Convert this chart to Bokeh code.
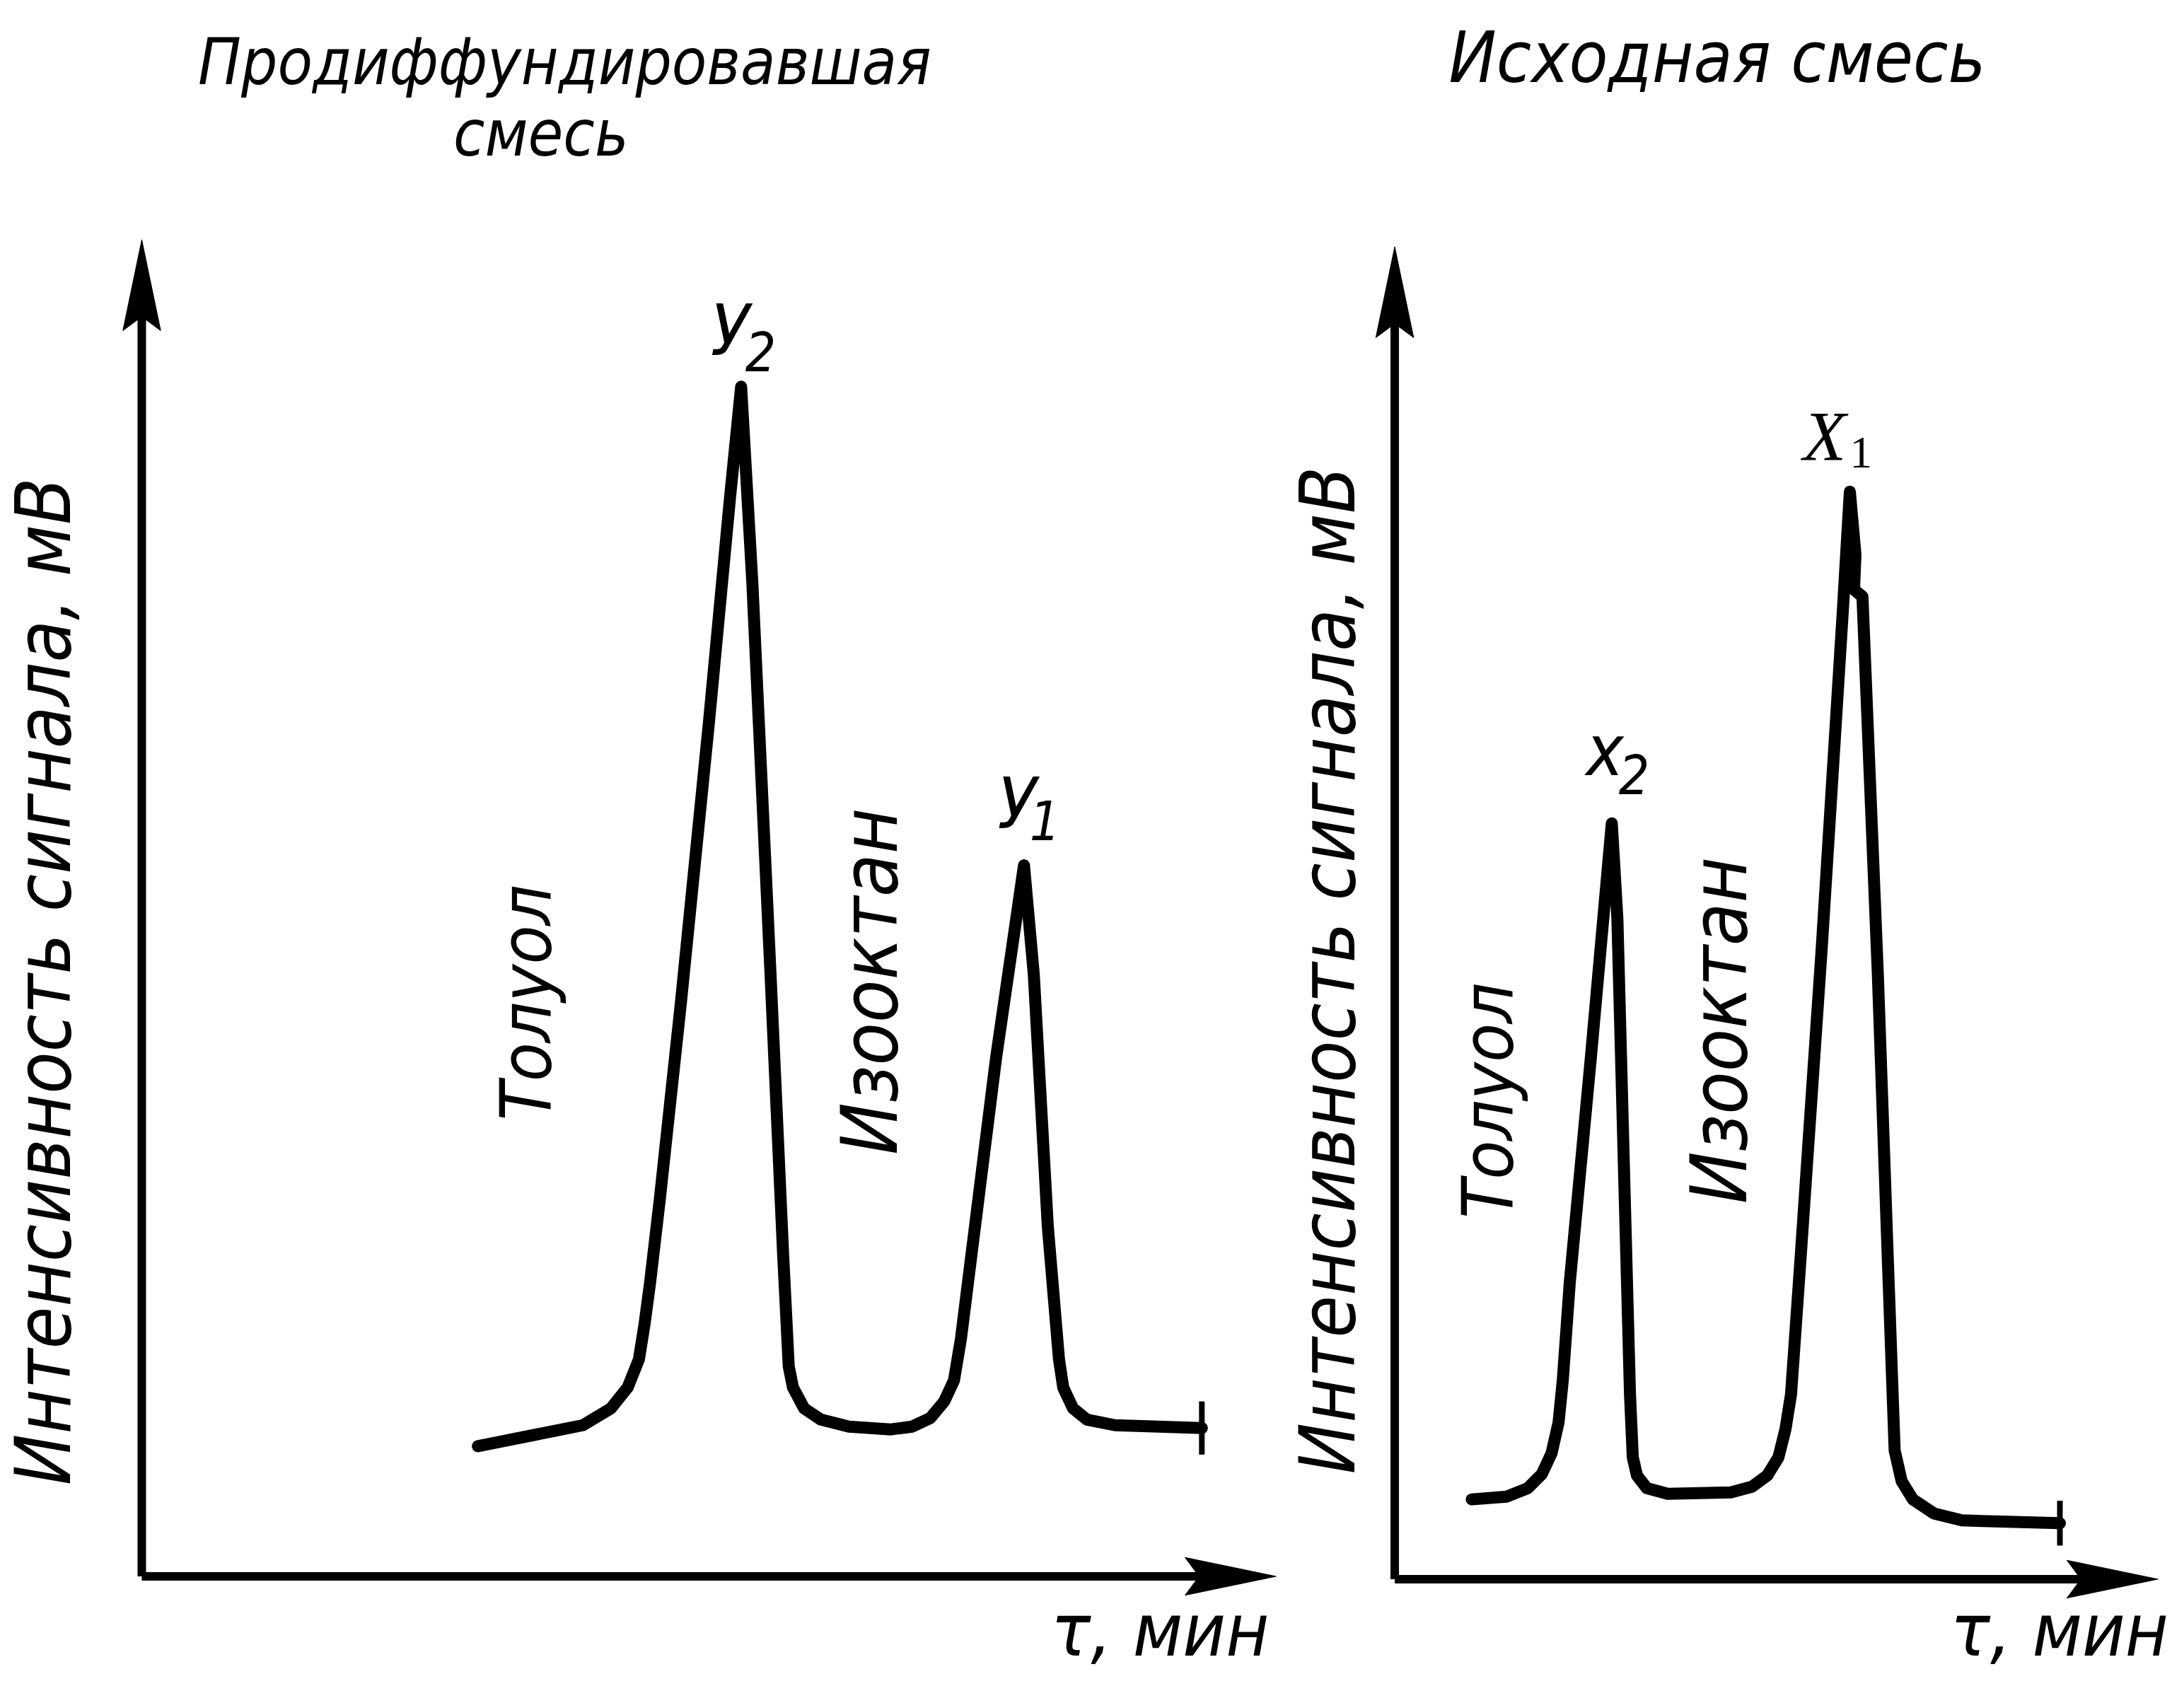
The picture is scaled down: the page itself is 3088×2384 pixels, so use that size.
from math import pi
from bokeh.plotting import figure
from bokeh.layouts import row
from bokeh.models import Range1d
from bokeh.core.properties import value
from bokeh.embed import file_html
from bokeh.resources import INLINE

# ---------------- data (arbitrary units: time, signal) ----------------
# Left panel: diffused mixture
left_t = [4.80, 6.30, 6.70, 6.94, 7.10, 7.18, 7.26, 7.40, 7.70, 8.10, 8.40, 8.56,
          8.72, 8.98, 9.16, 9.24, 9.30, 9.46, 9.70, 10.10, 10.70, 11.00, 11.26,
          11.46, 11.60, 11.70, 11.90, 12.20, 12.60, 12.74, 12.94, 13.10, 13.16,
          13.30, 13.50, 13.90, 15.14]
left_s = [1.86, 2.16, 2.40, 2.70, 3.10, 3.60, 4.20, 5.40, 8.20, 12.20, 15.40, 17.00,
          14.20, 8.60, 4.60, 3.00, 2.70, 2.40, 2.24, 2.14, 2.10, 2.14, 2.26,
          2.50, 2.80, 3.40, 5.00, 7.40, 10.16, 8.60, 5.00, 3.10, 2.70,
          2.40, 2.24, 2.16, 2.12]
left_end_tick = [1.74, 2.50]
left_axis_len = [16.2, 19.1]      # x tip, y tip

# Right panel: initial mixture
right_t = [1.10, 1.60, 1.90, 2.10, 2.24, 2.34, 2.40, 2.50, 2.80, 3.10, 3.18, 3.28,
           3.36, 3.40, 3.46, 3.60, 3.90, 4.80, 5.10, 5.32, 5.48, 5.58, 5.66, 5.80,
           6.10, 6.40, 6.50, 6.58, 6.56, 6.68, 6.90, 7.04, 7.14, 7.24, 7.40, 7.70,
           8.10, 9.50]
right_s = [1.14, 1.18, 1.30, 1.50, 1.80, 2.24, 2.84, 4.24, 7.44, 10.80, 9.44, 5.64,
           2.64, 1.74, 1.48, 1.30, 1.22, 1.24, 1.32, 1.48, 1.74, 2.14, 2.64, 4.64,
           9.04, 13.84, 15.54, 14.64, 14.14, 14.04, 8.64, 4.64, 1.84, 1.40, 1.14, 0.94,
           0.84, 0.80]
right_end_tick = [0.48, 1.12]
right_axis_len = [10.9, 19.04]

panel_titles = [["Продиффундировавшая", "смесь"], ["Исходная  смесь"]]
y_label = "Интенсивность сигнала, мВ"
x_label = "τ, мин"
component_labels = ["Толуол", "Изооктан"]
left_peaks = [("У", "2"), ("У", "1")]
right_peaks = [("x", "2"), ("X", "1")]

FONT = value("DejaVu Sans Condensed")
SERIF = value("Liberation Serif")
H = 2368


def make_fig(width, xr, yr):
    p = figure(width=width, height=H, x_range=Range1d(*xr), y_range=Range1d(*yr),
               output_backend="svg", toolbar_location=None,
               x_axis_location=None, y_axis_location=None, min_border=0)
    p.grid.visible = False
    p.outline_line_color = None
    p.background_fill_color = "white"
    p.border_fill_color = "white"
    return p


def draw_axes(p, ax_len):
    xt, yt = ax_len
    p.line([0, 0], [0, yt - 0.9], line_color="black", line_width=12)
    p.line([0, xt - 0.9], [0, 0], line_color="black", line_width=12)
    L, w, n = 1.3, 0.27, 1.1
    # arrow heads (shape derived from axis ends)
    p.patch([0, w, 0, -w], [yt, yt - L, yt - n, yt - L], color="black")
    p.patch([xt, xt - L, xt - n, xt - L], [0, w, 0, -w], color="black")


def vtext(p, x, y, txt, size="100px", font=FONT):
    p.text(x=[x], y=[y], text=[txt], angle=pi / 2, text_align="center",
           text_baseline="middle", text_font=font, text_font_style="italic",
           text_font_size=size, text_color="black")


def htext(p, x, y, txt, size="100px", align="center", baseline="middle",
          font=FONT, style="italic"):
    p.text(x=[x], y=[y], text=[txt], text_align=align, text_baseline=baseline,
           text_font=font, text_font_style=style, text_font_size=size,
           text_color="black")


# ---------------- left figure ----------------
pl = make_fig(1808, (-2.02, 16.243), (-1.41, 22.52))
draw_axes(pl, left_axis_len)
pl.line(left_t, left_s, line_color="black", line_width=17, line_join="round", line_cap="round")
pl.line([left_t[-1]] * 2, left_end_tick, line_color="black", line_width=8)
htext(pl, 6.04, 21.64, panel_titles[0][0], size="90px")
htext(pl, 5.70, 20.62, panel_titles[0][1], size="90px")
vtext(pl, -1.40, 8.50, y_label, size="108px")
htext(pl, 16.10, -1.38, x_label, size="104px", align="right", baseline="bottom")
vtext(pl, 5.50, 8.20, component_labels[0], size="100px")
vtext(pl, 10.40, 8.50, component_labels[1], size="110px")
htext(pl, 8.40, 17.80, left_peaks[0][0], size="100px")
htext(pl, 8.84, 17.50, left_peaks[0][1], size="76px")
htext(pl, 12.50, 11.04, left_peaks[1][0], size="100px")
htext(pl, 12.90, 10.80, left_peaks[1][1], size="76px")

# ---------------- right figure ----------------
pr = make_fig(1264, (-1.652, 11.116), (-1.37, 22.56))
draw_axes(pr, right_axis_len)
pr.line(right_t, right_s, line_color="black", line_width=17, line_join="round", line_cap="round")
pr.line([right_t[-1]] * 2, right_end_tick, line_color="black", line_width=8)
htext(pr, 4.75, 21.74, panel_titles[1][0], size="100px")
vtext(pr, -0.96, 8.70, y_label, size="108px")
htext(pr, 11.05, -1.34, x_label, size="104px", align="right", baseline="bottom")
vtext(pr, 1.34, 6.84, component_labels[0], size="100px")
vtext(pr, 4.64, 7.84, component_labels[1], size="110px")
htext(pr, 3.00, 11.84, right_peaks[0][0], size="100px")
htext(pr, 3.42, 11.50, right_peaks[0][1], size="76px")
htext(pr, 6.14, 16.34, right_peaks[1][0], size="100px", font=SERIF, style="italic")
htext(pr, 6.66, 16.10, right_peaks[1][1], size="64px", font=SERIF, style="normal")

layout = row(pl, pr)
open("out.html", "w").write(file_html(layout, INLINE))
